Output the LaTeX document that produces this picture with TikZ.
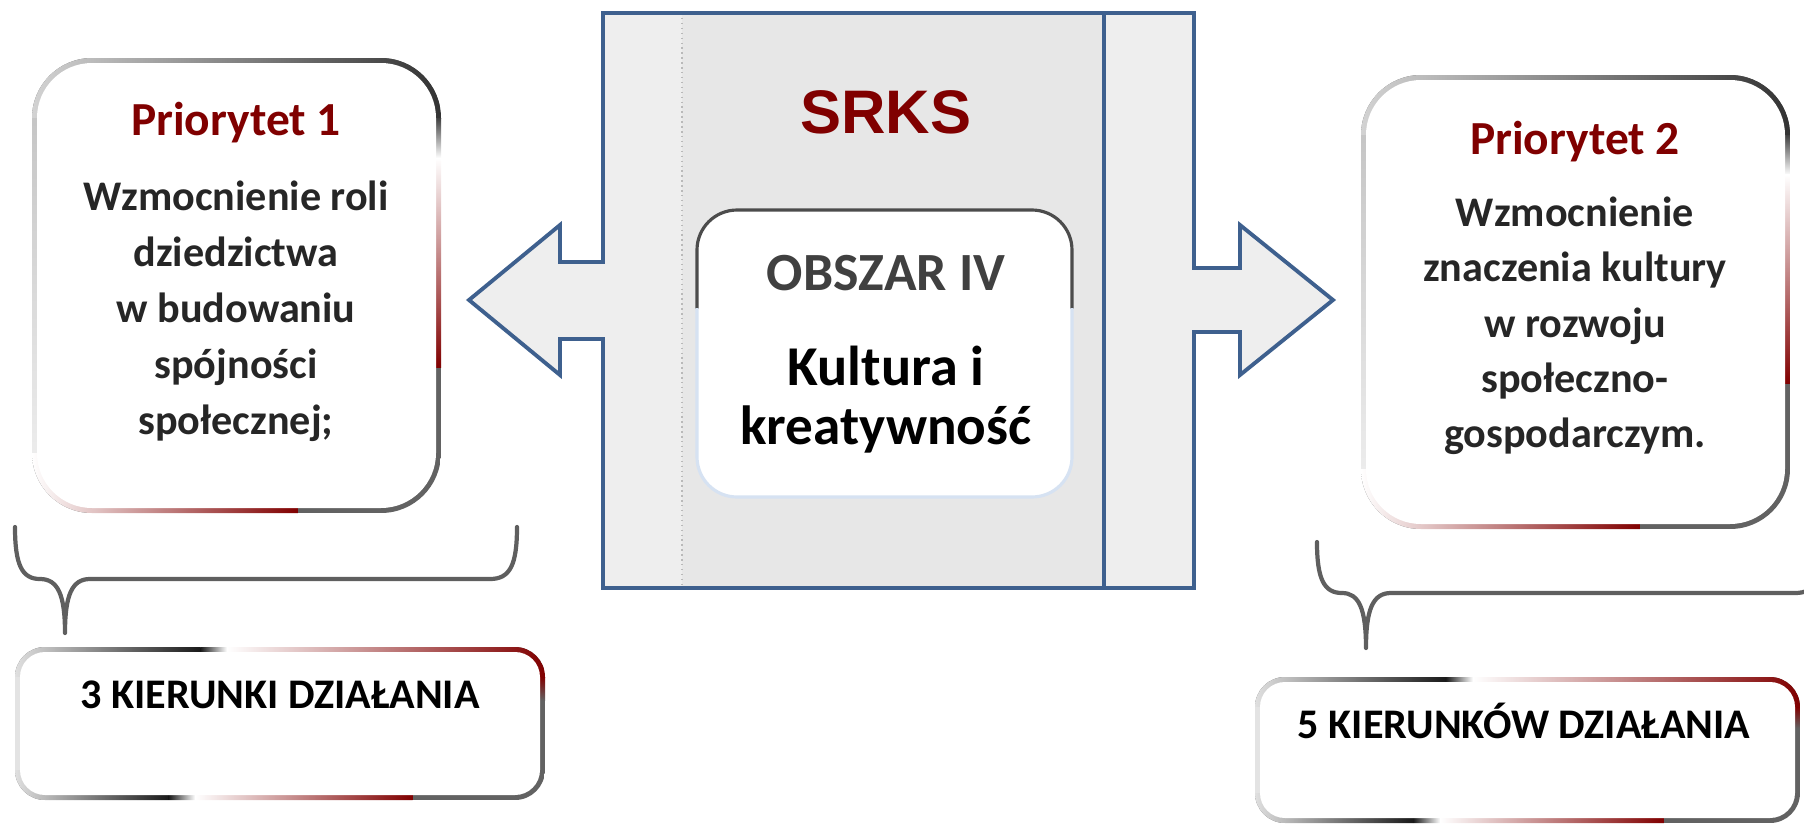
\documentclass[tikz,border=0pt]{standalone}
\usepackage{fontspec}
\setmainfont{Carlito}
\newfontfamily\srksfont{Liberation Sans}

\definecolor{srksred}{RGB}{128,0,0}
\definecolor{srksblue}{RGB}{62,96,142}
\definecolor{panel}{RGB}{231,231,231}
\definecolor{strip}{RGB}{238,238,238}
\definecolor{brace}{RGB}{95,95,95}
\definecolor{edge}{RGB}{98,98,98}
\definecolor{ink}{RGB}{38,38,38}
\definecolor{paleblue}{RGB}{214,226,242}

\tikzset{
  body/.style={font=\fontsize{12}{14}\selectfont\bfseries, text=ink, anchor=base, inner sep=0pt},
  title/.style={font=\fontsize{13.5}{16}\selectfont\bfseries, text=srksred, anchor=base, inner sep=0pt},
  bracepath/.style={draw=brace, line width=1.2pt, line cap=round, line join=round},
  outline/.style={draw=srksblue, line width=1.1pt},
}

% rounded box with a shaded rim (priority boxes)
\newcommand{\prioring}[4]{%
  \pgfmathsetmacro{\ha}{#2+60}\pgfmathsetmacro{\hb}{#4-60}
  \pgfmathsetmacro{\wa}{#1+60}\pgfmathsetmacro{\wb}{#3-60}
  \pgfmathsetmacro{\ya}{#2+0.22*(#4-#2)}\pgfmathsetmacro{\yb}{#2+0.68*(#4-#2)}
  \pgfmathsetmacro{\xa}{#1+0.65*(#3-#1)}
  \begin{scope}
    \clip[rounded corners=6mm] (#1,#2) rectangle (#3,#4);
    \fill[edge] (#1,#2) rectangle (#3,#4);
    \shade[left color=gray!35, middle color=gray!90, right color=black!80] (#1,#2) rectangle (#3,\ha);
    \shade[top color=gray!45, middle color=black!85, bottom color=gray!15] (#1,\ha) rectangle (\wa,\hb);
    \shade[top color=black!75, bottom color=white] (\wb,\ha) rectangle (#3,\ya);
    \shade[top color=white, bottom color=srksred] (\wb,\ya) rectangle (#3,\yb);
    \shade[left color=white, right color=srksred] (#1,\hb) rectangle (\xa,#4);
  \end{scope}
  \fill[white, rounded corners=5.5mm] (#1+5,#2+5) rectangle (#3-5,#4-5);
}

% rounded box with a shaded rim (action boxes)
\newcommand{\kierring}[4]{%
  \pgfmathsetmacro{\ha}{#2+30}\pgfmathsetmacro{\hb}{#4-30}
  \pgfmathsetmacro{\wa}{#1+30}\pgfmathsetmacro{\wb}{#3-30}
  \pgfmathsetmacro{\ya}{#2+0.35*(#4-#2)}
  \pgfmathsetmacro{\xa}{#1+0.35*(#3-#1)}\pgfmathsetmacro{\xb}{#1+0.40*(#3-#1)}
  \pgfmathsetmacro{\xc}{#1+0.29*(#3-#1)}\pgfmathsetmacro{\xd}{#1+0.34*(#3-#1)}
  \pgfmathsetmacro{\xe}{#1+0.75*(#3-#1)}
  \begin{scope}
    \clip[rounded corners=3mm] (#1,#2) rectangle (#3,#4);
    \fill[edge] (#1,#2) rectangle (#3,#4);
    \shade[left color=gray!25, right color=black!90] (#1,#2) rectangle (\xa,\ha);
    \shade[left color=black!90, right color=white] (\xa,#2) rectangle (\xb,\ha);
    \shade[left color=white, right color=srksred] (\xb,#2) rectangle (#3,\ha);
    \fill[gray!22] (#1,\ha) rectangle (\wa,\hb);
    \shade[top color=srksred, bottom color=edge] (\wb,\ha) rectangle (#3,\ya);
    \shade[left color=gray!25, right color=black!90] (#1,\hb) rectangle (\xc,#4);
    \shade[left color=black!90, right color=white] (\xc,\hb) rectangle (\xd,#4);
    \shade[left color=white, right color=srksred] (\xd,\hb) rectangle (\xe,#4);
  \end{scope}
  \fill[white, rounded corners=2.5mm] (#1+5,#2+5) rectangle (#3-5,#4-5);
}

\begin{document}
\begin{tikzpicture}[x=0.1mm, y=-0.1mm]
\useasboundingbox (0,0) rectangle (1804,827);
\def\panelpath{(603,13) -- (1194,13) -- (1194,268) -- (1240,268) -- (1240,225) -- (1333,300)
  -- (1240,375) -- (1240,332) -- (1194,332) -- (1194,588) -- (603,588) -- (603,339)
  -- (560,339) -- (560,375) -- (469,300) -- (560,225) -- (560,262) -- (603,262) -- cycle}

% centre panel and arrows
\fill[strip] \panelpath;
\fill[panel] (682,13) rectangle (1104,588);
\draw[gray!55, densely dotted] (682,13) -- (682,588);
\draw[outline] \panelpath;
\draw[outline] (1104,13) -- (1104,588);

% area box
\fill[white, rounded corners=4mm] (697,210) rectangle (1072,497);
\begin{scope}
  \clip (680,195) rectangle (1090,308);
  \draw[black!70, line width=0.9pt, rounded corners=4mm] (697,210) rectangle (1072,497);
\end{scope}
\begin{scope}
  \clip (680,308) rectangle (1090,510);
  \draw[paleblue, line width=0.9pt, rounded corners=4mm] (697,210) rectangle (1072,497);
\end{scope}

\node[font=\srksfont\fontsize{17.5}{20}\selectfont\bfseries, text=srksred, anchor=base, inner sep=0pt] (srks) at (886,133) {SRKS};
\node[font=\fontsize{15.3}{18}\selectfont\bfseries, text=black!75, anchor=base, inner sep=0pt] (obszar) at (886,290) {OBSZAR IV};
\node[font=\fontsize{16}{18}\selectfont\bfseries, anchor=base, inner sep=0pt] (kultura) at (886,385) {Kultura i};
\node[font=\fontsize{15.7}{18}\selectfont\bfseries, anchor=base, inner sep=0pt] (kreat) at (886,444) {kreatywność};

% priority boxes
\prioring{32}{58}{441}{513}
\prioring{1361}{75}{1790}{529}

\node[title] (prio1) at (236,135) {Priorytet 1};
\foreach \y/\ytext [count=\i] in {210/Wzmocnienie roli, 266/dziedzictwa, 322/w budowaniu, 378/spójności, 434/społecznej;}
  \node[body] (lewy\i) at (236,\y) {\ytext};

\node[title] (prio2) at (1575,154) {Priorytet 2};
\foreach \y/\ytext [count=\i] in {226/Wzmocnienie, 281/znaczenia kultury, 337/w rozwoju, 392/społeczno-, 447/gospodarczym.}
  \node[body] (prawy\i) at (1575,\y) {\ytext};

% braces
\draw[bracepath] (15,527) .. controls (15,565) and (22,579) .. (40,579)
  .. controls (58,579) and (65,595) .. (65,633)
  .. controls (65,595) and (72,579) .. (90,579) -- (490,579)
  .. controls (510,579) and (517,565) .. (517,527);
\draw[bracepath] (1317,542) .. controls (1317,579) and (1324,593) .. (1342,593)
  .. controls (1359,593) and (1366,609) .. (1366,648)
  .. controls (1366,609) and (1373,593) .. (1391,593) -- (1795,593)
  .. controls (1815,593) and (1824,580) .. (1824,542);

% action boxes
\kierring{15}{647}{545}{800}
\kierring{1255}{677}{1800}{823}
\node[body, text=black] (kier3) at (280,708) {3 KIERUNKI DZIAŁANIA};
\node[body, text=black] (kier5) at (1524,738) {5 KIERUNKÓW DZIAŁANIA};
\end{tikzpicture}
\end{document}
